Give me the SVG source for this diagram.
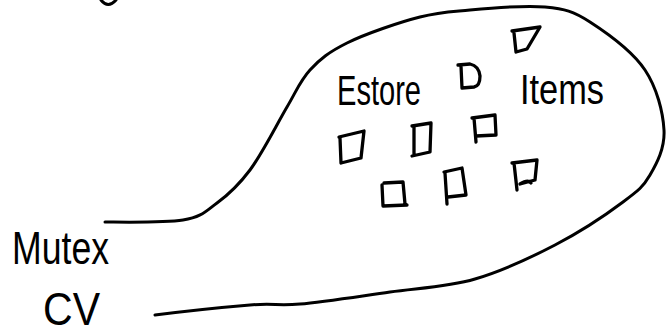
<svg xmlns="http://www.w3.org/2000/svg" width="667" height="334" viewBox="0 0 667 334">
<style>
.ink{fill:none;stroke:#000;stroke-width:3;stroke-linecap:round;stroke-linejoin:round}
.box{fill:none;stroke:#000;stroke-width:3.3;stroke-linecap:round;stroke-linejoin:round}
.hand{font-family:"Liberation Sans","DejaVu Sans",sans-serif;fill:#000}
</style>
<rect width="667" height="334" fill="#fff"/>
<path class="ink" d="M101,0 Q108,9 116,0"/>
<g id="connectors">
<path class="ink" d="M105,222 C118,222 164,223 183,220 C202,217 206,211 217,203 C228,195 238,186 250,170 C262,154 277,124 287,107 C297,90 300,81 310,70 C320,59 329,52 347,43 C365,34 400,22 420,17 C440,12 449,12 470,10 C491,8 525,5 545,7 C565,9 573,11 590,22 C607,33 633,52 645,70 C657,88 663,112 664,130 C665,148 657,163 650,175 C643,187 639,190 623,202 C607,214 580,232 555,245 C530,258 502,271 475,279 C448,287 419,288 390,292 C361,296 323,302 300,304 C277,306 274,303 250,305 C226,307 171,313 155,315"/>
</g>
<g id="Estore"><text class="hand" x="337" y="105" font-size="42" textLength="84" lengthAdjust="spacingAndGlyphs">Estore</text></g>
<g id="Items"><text class="hand" x="520" y="104" font-size="42" textLength="84" lengthAdjust="spacingAndGlyphs">Items</text></g>
<g id="Mutex"><text class="hand" x="12" y="264" font-size="46" textLength="97" lengthAdjust="spacingAndGlyphs">Mutex</text></g>
<g id="CV"><text class="hand" x="43" y="325" font-size="46" textLength="57" lengthAdjust="spacingAndGlyphs">CV</text></g>
<g id="cells">
<path class="box" d="M512,31 L540,27 L527,49 L516,52 M514,33 L516,52"/>
<path class="box" d="M461,66 L462,88 M458,65 L470,64 Q479,66 480,76 Q480,86 474,87 L462,88"/>
<path class="box" d="M340,138 L341,163 M339,137 L364,131 L361,158 L341,163"/>
<path class="box" d="M414,127 L414,155 M412,126 L431,123 L430,152 L412,156"/>
<path class="box" d="M474,118 L476,142 M472,118 L495,115 L496,135 L476,136"/>
<path class="box" d="M382,185 L383,206 L407,205 M384,183 L403,182 L405,204"/>
<path class="box" d="M445,173 L447,204 M444,172 L462,168 L466,195 L448,197"/>
<path class="box" d="M514,163 L517,190 M512,163 L537,160 L535,180 L520,184 Q528,179 531,183"/>
</g>
</svg>
